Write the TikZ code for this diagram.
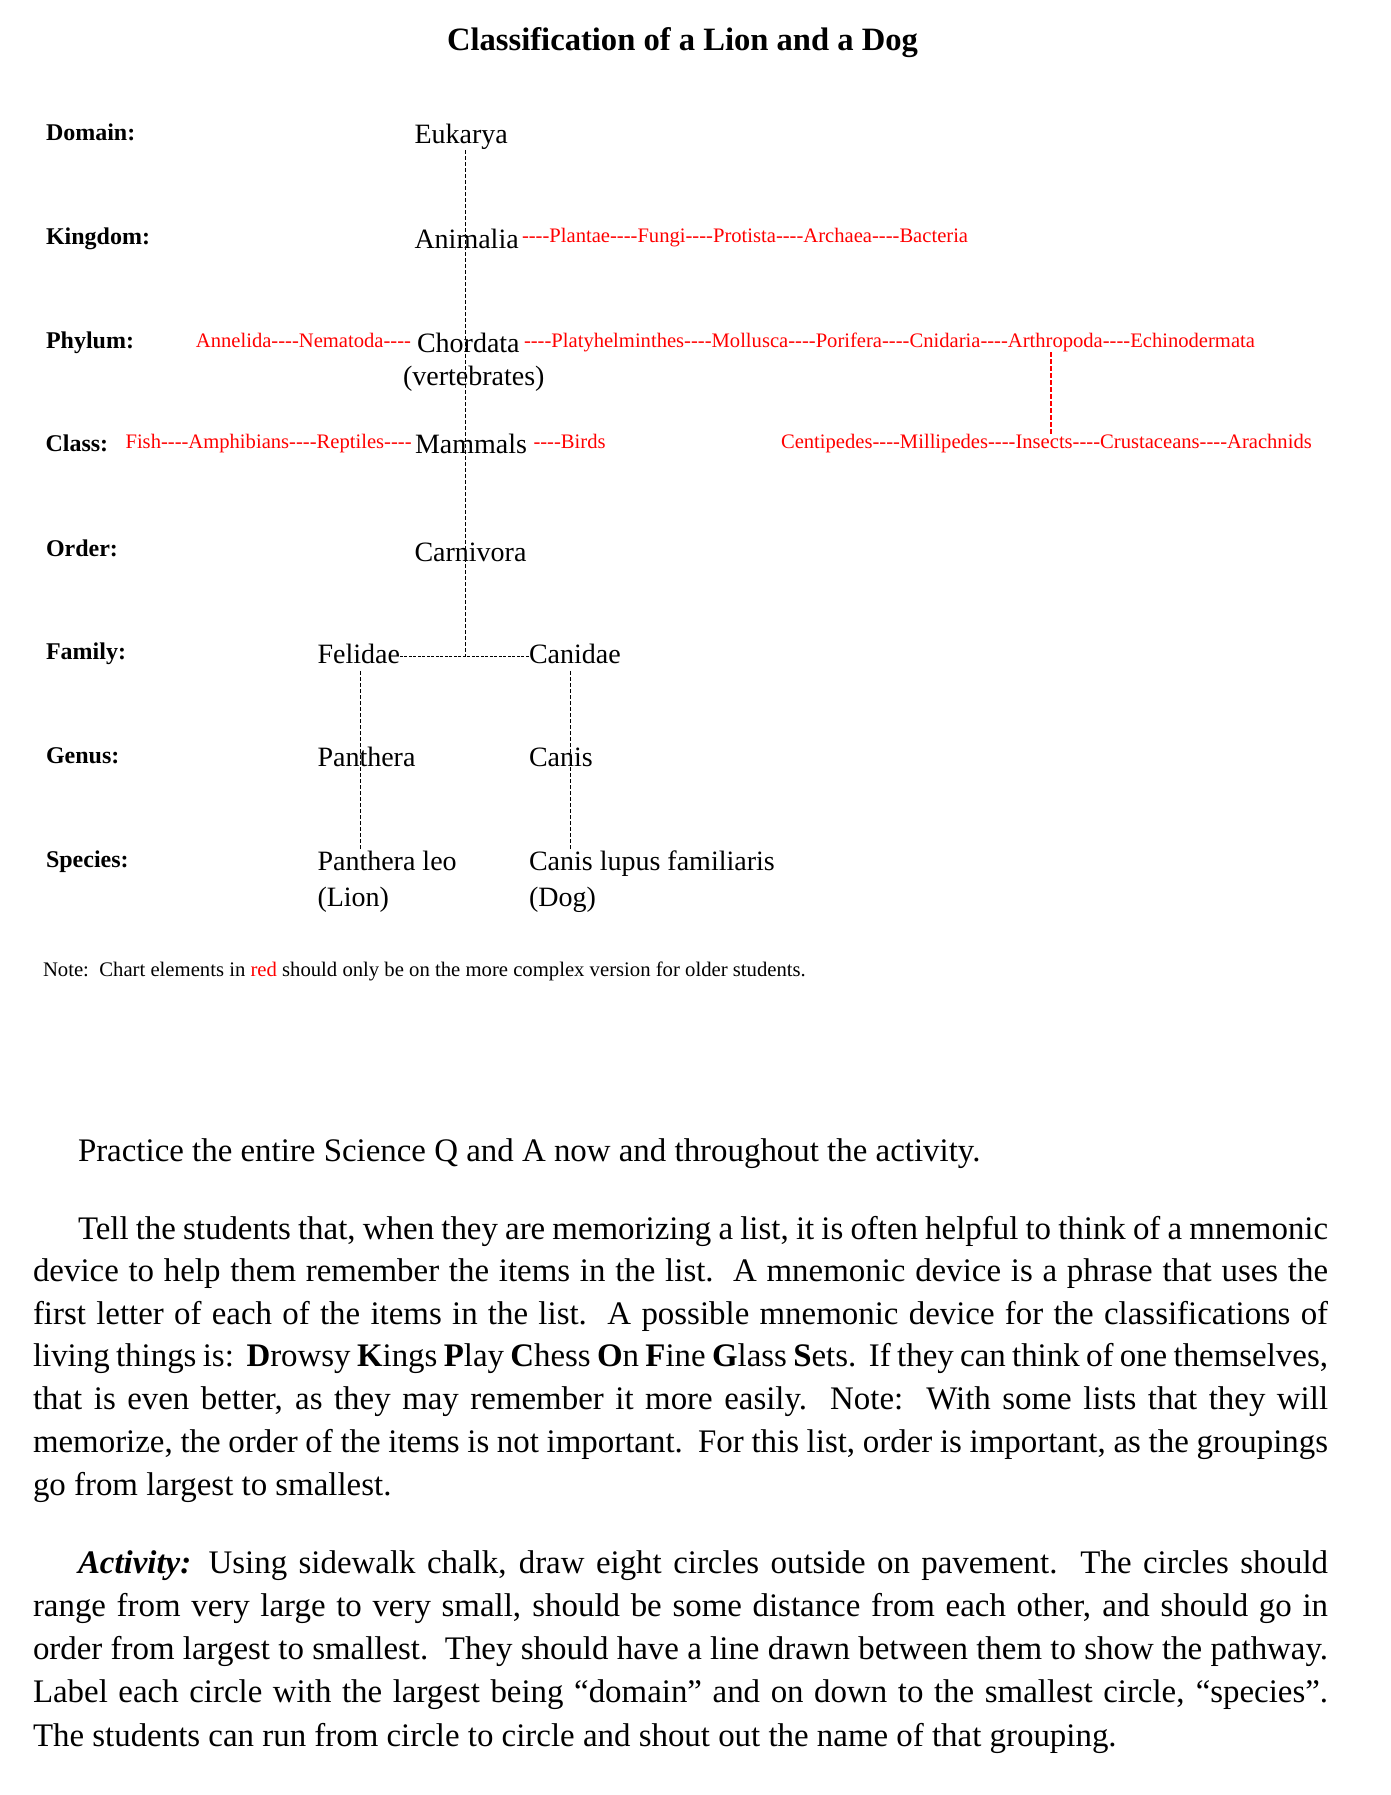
\documentclass[tikz,border=0pt]{standalone}
\usepackage{fontspec}
\setmainfont{Liberation Serif}
\newfontfamily\plainserif{Liberation Serif}
\begin{document}
\begin{tikzpicture}[x=1pt,y=-1pt,
  every node/.style={inner sep=0pt,outer sep=0pt},
  titlet/.style={anchor=base,font=\fontsize{32.6}{36}\selectfont\bfseries},
  lab/.style={anchor=base west,font=\fontsize{24}{26}\selectfont\bfseries},
  blk/.style={anchor=base west,font=\fontsize{28}{30}\selectfont},
  redt/.style={anchor=base west,text=red,font=\plainserif\fontsize{20.6}{22}\selectfont},
  notet/.style={anchor=base west,font=\fontsize{20.7}{22}\selectfont},
  bodyt/.style={anchor=base west,font=\fontsize{32.9}{40}\selectfont},
  blkdash/.style={draw=black,line width=1pt,dash pattern=on 4pt off 2pt},
  hdash/.style={draw=black,line width=1pt,dash pattern=on 3pt off 1.5pt},
  reddash/.style={draw=red,line width=1.8pt,dash pattern=on 5pt off 2pt}]
\fill[white] (0,0) rectangle (1391,1795);
\useasboundingbox (0,0) rectangle (1391,1795);

% title
\node[titlet] (title) at (682.5,51) {Classification of a Lion and a Dog};

% row labels
\node[lab] (ldom) at (46,141) {Domain:};
\node[lab] (lkin) at (46,245) {Kingdom:};
\node[lab] (lphy) at (46,348.3) {Phylum:};
\node[lab] (lcla) at (45.5,451) {Class:};
\node[lab] (lord) at (46,556) {Order:};
\node[lab] (lfam) at (46,659) {Family:};
\node[lab] (lgen) at (46,763) {Genus:};
\node[lab] (lspe) at (46,867) {Species:};

% black taxa
\node[blk] (euk) at (414.5,144) {Eukarya};
\node[blk] (anim) at (414.5,248) {Animalia};
\node[blk] (chord) at (417,352.7) {Chordata};
\node[blk] (vert) at (403,385) {(vertebrates)};
\node[blk] (mamm) at (415,453.3) {Mammals};
\node[blk] (carn) at (414.5,561) {Carnivora};
\node[blk] (feli) at (317.5,663) {Felidae};
\node[blk] (cani) at (529,663) {Canidae};
\node[blk] (panth) at (317.5,766.7) {Panthera};
\node[blk] (canis) at (529,766.7) {Canis};
\node[blk] (pleo) at (317.5,870.7) {Panthera leo};
\node[blk] (lion) at (317.5,906) {(Lion)};
\node[blk] (clf) at (529,870.7) {Canis lupus familiaris};
\node[blk] (dog) at (529,906) {(Dog)};

% red taxa
\node[redt] (rkin) at (522,242.7) {----Plantae----Fungi----Protista----Archaea----Bacteria};
\node[redt,anchor=base east] (rphyl) at (411,347.7) {Annelida----Nematoda----};
\node[redt] (rphyr) at (524,347.7) {----Platyhelminthes----Mollusca----Porifera----Cnidaria----};
\node[redt] (arth) at (rphyr.base east) {Arthropoda};
\node[redt] (echi) at (arth.base east) {----Echinodermata};
\node[redt,anchor=base east] (rclal) at (411.6,448.3) {Fish----Amphibians----Reptiles----};
\node[redt] (birds) at (533.5,448.3) {----Birds};
\node[redt] (rclar) at (781,448) {Centipedes----Millipedes----};
\node[redt] (insects) at (rclar.base east) {Insects};
\node[redt] (rclarr) at (insects.base east) {----Crustaceans----Arachnids};

% connector columns
\coordinate (trunk) at (465,0);
\coordinate (lcol) at (360,0);
\coordinate (rcol) at (570,0);
\coordinate (acol) at (1051,0);
\coordinate (hl) at ([yshift=7pt]feli.base east);
\coordinate (hr) at ([yshift=7pt]cani.base west);

\draw[blkdash] (trunk |- euk.south) -- (trunk |- hl);
\draw[hdash] (hl) -- (hr);
\draw[blkdash] ([yshift=-8pt]lcol |- feli.south) -- (lcol |- pleo.north);
\draw[blkdash] ([yshift=-8pt]rcol |- cani.south) -- (rcol |- clf.north);
\draw[reddash] (acol |- arth.south) -- (acol |- insects.north);

% note
\node[notet] (note) at (43,976.7) {Note:\ \ Chart elements in \textcolor{red}{red} should only be on the more complex version for older students.};

% body text
\node[bodyt] (l1) at (78,1161.7) {Practice the entire Science Q and A now and throughout the activity.};
\node[bodyt] (l2) at (78,1239) {\makebox[1250pt][s]{Tell the students that, when they are memorizing a list, it is often helpful to think of a mnemonic}};
\node[bodyt] (l3) at (33,1281.7) {\makebox[1295pt][s]{device to help them remember the items in the list.\ \ A mnemonic device is a phrase that uses the}};
\node[bodyt] (l4) at (33,1324) {\makebox[1295pt][s]{first letter of each of the items in the list.\ \ A possible mnemonic device for the classifications of}};
\node[bodyt] (l5) at (33,1366.7) {\makebox[1295pt][s]{living things is:\ \ \textbf{D}rowsy \textbf{K}ings \textbf{P}lay \textbf{C}hess \textbf{O}n \textbf{F}ine \textbf{G}lass \textbf{S}ets.\ \ If they can think of one themselves,}};
\node[bodyt] (l6) at (33,1409) {\makebox[1295pt][s]{that is even better, as they may remember it more easily.\ \ Note:\ \ With some lists that they will}};
\node[bodyt] (l7) at (33,1452.3) {\makebox[1295pt][s]{memorize, the order of the items is not important.\ \ For this list, order is important, as the groupings}};
\node[bodyt] (l8) at (33,1495) {go from largest to smallest.};
\node[bodyt] (l9) at (78,1573) {\makebox[1250pt][s]{\textbf{\textit{Activity:}} Using sidewalk chalk, draw eight circles outside on pavement.\ \ The circles should}};
\node[bodyt] (l10) at (33,1616.5) {\makebox[1295pt][s]{range from very large to very small, should be some distance from each other, and should go in}};
\node[bodyt] (l11) at (33,1659) {\makebox[1295pt][s]{order from largest to smallest.\ \ They should have a line drawn between them to show the pathway.}};
\node[bodyt] (l12) at (33,1702) {\makebox[1295pt][s]{Label each circle with the largest being “domain” and on down to the smallest circle, “species”.}};
\node[bodyt] (l13) at (33,1746) {The students can run from circle to circle and shout out the name of that grouping.};
\end{tikzpicture}
\end{document}
